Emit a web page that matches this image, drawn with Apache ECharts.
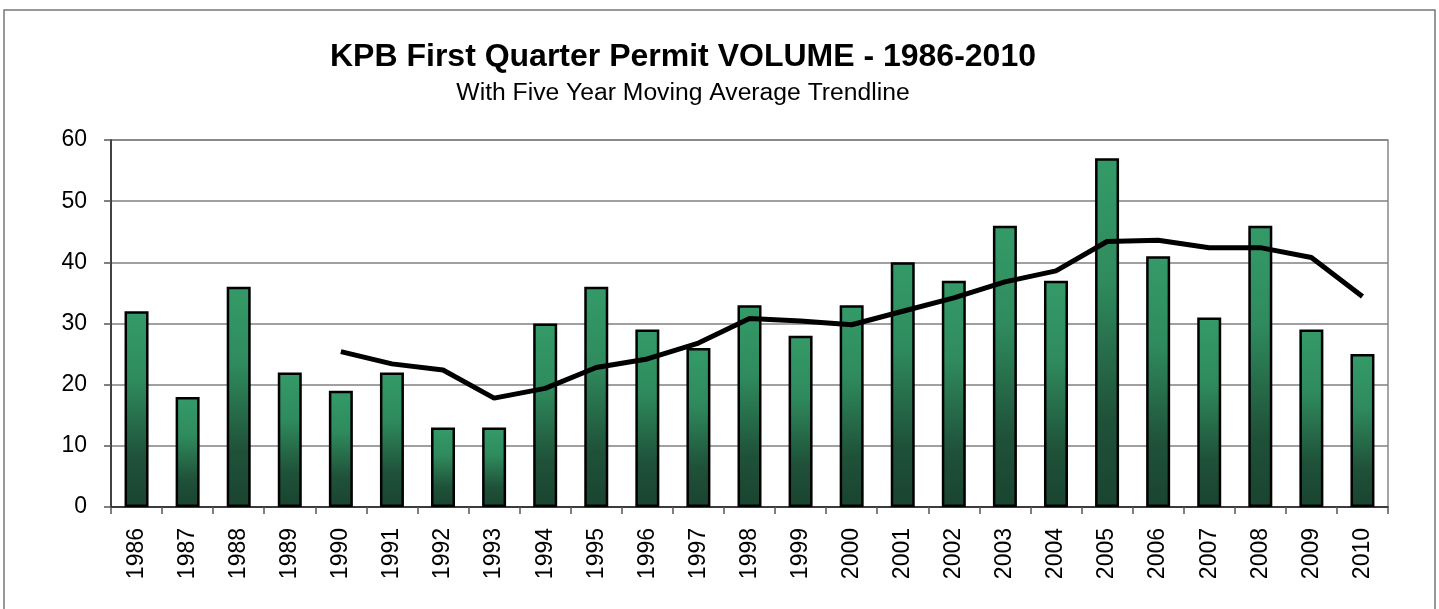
<!DOCTYPE html>
<html>
<head>
<meta charset="utf-8">
<script src="https://cdn.jsdelivr.net/npm/echarts@6/dist/echarts.min.js"></script>
<style>
  html, body { margin: 0; padding: 0; background: #fff; }
  #PermitChart { width: 1439px; height: 609px; }
</style>
</head>
<body>
<div id="PermitChart"></div>
<script>
// data
var years = ['1986', '1987', '1988', '1989', '1990', '1991', '1992', '1993', '1994', '1995', '1996', '1997', '1998',
             '1999', '2000', '2001', '2002', '2003', '2004', '2005', '2006', '2007', '2008', '2009', '2010'];
var permits = [32, 18, 36, 22, 19, 22, 13, 13, 30, 36, 29, 26, 33, 28, 33, 40, 37, 46, 37, 57, 41, 31, 46, 29, 25];
var movingAvg = ['-', '-', '-', '-', 25.4, 23.4, 22.4, 17.8, 19.4, 22.8, 24.2, 26.8, 30.8, 30.4, 29.8, 32, 34.2,
                 36.8, 38.6, 43.4, 43.6, 42.4, 42.4, 40.8, 34.4];
var yTicks = [0, 10, 20, 30, 40, 50, 60];

var PermitChart = echarts.init(document.getElementById('PermitChart'));
var fontFam = '"Liberation Sans", Arial, sans-serif';

var optionPermit = {
    animation: false,
    textStyle: { fontFamily: fontFam },
    title: [
        {
            left: 678,
            top: 36,
            textAlign: 'center',
            text: 'KPB First Quarter Permit VOLUME - 1986-2010',
            textStyle: { color: '#000', fontSize: 32, fontWeight: 'bold', fontFamily: fontFam }
        },
        {
            left: 678,
            top: 76,
            textAlign: 'center',
            text: 'With Five Year Moving Average Trendline',
            textStyle: { color: '#000', fontSize: 24.7, fontWeight: 'normal', fontFamily: fontFam }
        }
    ],
    graphic: [{
        type: 'rect',
        shape: { x: 4, y: 10, width: 1431, height: 640 },
        style: { fill: 'none', stroke: '#777', lineWidth: 1.5 },
        silent: true
    }],
    grid: {
        left: 111,
        right: 51,
        top: 140,
        bottom: 102,
        show: true,
        borderColor: '#888',
        borderWidth: 1.5
    },
    xAxis: [{
        type: 'category',
        data: years,
        axisLine: { lineStyle: { color: '#222', width: 1.5 } },
        axisTick: { show: true, length: 7, lineStyle: { color: '#555', width: 1.5 } },
        axisLabel: { rotate: 90, margin: 21, fontSize: 23, color: '#000', fontFamily: fontFam }
    }],
    yAxis: [{
        type: 'value',
        min: yTicks[0],
        max: yTicks[yTicks.length - 1],
        interval: 10,
        axisLine: { show: true, lineStyle: { color: '#222', width: 1.5 } },
        axisTick: { show: true, length: 7, lineStyle: { color: '#555', width: 1.5 } },
        axisLabel: { margin: 24, fontSize: 23, color: '#000', fontFamily: fontFam },
        splitLine: { lineStyle: { color: '#808080', width: 1.5 } }
    }],
    series: [
        {
            name: 'Permits',
            type: 'bar',
            barWidth: 24,
            itemStyle: {
                color: new echarts.graphic.LinearGradient(0, 0, 0, 1, [
                    { offset: 0, color: '#349a68' },
                    { offset: 0.35, color: '#2f8b5d' },
                    { offset: 0.75, color: '#1f5139' },
                    { offset: 1, color: '#1a4430' }
                ]),
                borderColor: '#000',
                borderWidth: 2.5
            },
            data: permits
        },
        {
            name: 'Five Year Moving Average',
            type: 'line',
            showSymbol: false,
            symbol: 'none',
            lineStyle: { color: '#000', width: 5 },
            data: movingAvg
        }
    ]
};
PermitChart.setOption(optionPermit);
</script>
</body>
</html>
